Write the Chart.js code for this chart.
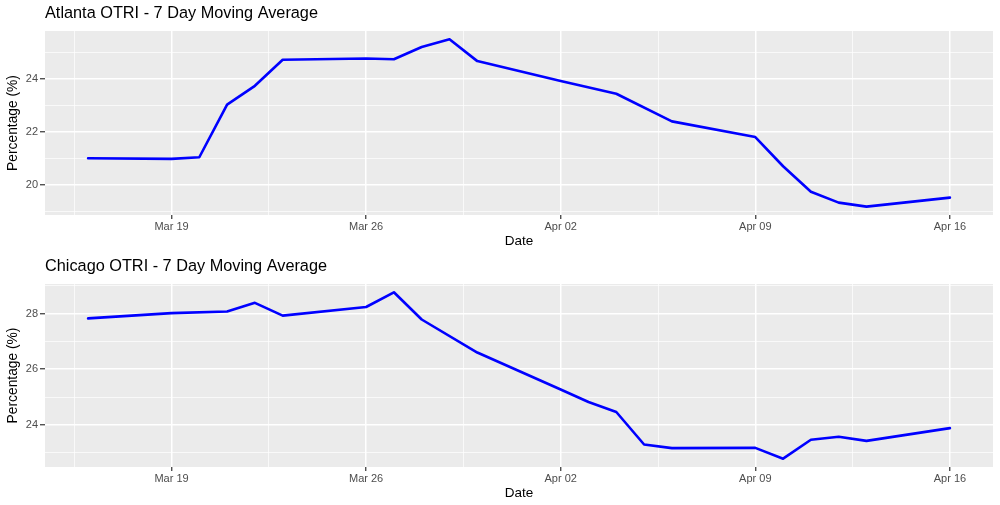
<!DOCTYPE html>
<html>
<head>
<meta charset="utf-8">
<script src="https://cdn.jsdelivr.net/npm/chart.js@4.4.1/dist/chart.umd.min.js"></script>
<style>
  html, body { margin: 0; padding: 0; background: #fff; }
  #wrap { position: relative; width: 1000px; height: 505px; }
  canvas { position: absolute; left: 0; }
</style>
</head>
<body>
<div id="wrap">
  <canvas id="atlanta" width="1000" height="253" style="top:0"></canvas>
  <canvas id="chicago" width="1000" height="252" style="top:253px"></canvas>
</div>
<script>
// Data
const atlantaDates = ['2020-03-16', '2020-03-19', '2020-03-20', '2020-03-21', '2020-03-22', '2020-03-23',
  '2020-03-26', '2020-03-27', '2020-03-28', '2020-03-29', '2020-03-30', '2020-04-02', '2020-04-04',
  '2020-04-06', '2020-04-09', '2020-04-10', '2020-04-11', '2020-04-12', '2020-04-13', '2020-04-16'];
const atlantaValues = [21.01, 20.99, 21.05, 23.03, 23.74, 24.72, 24.77, 24.74, 25.20, 25.49, 24.67,
  23.92, 23.44, 22.40, 21.81, 20.71, 19.75, 19.34, 19.19, 19.53];

const chicagoDates = ['2020-03-16', '2020-03-19', '2020-03-21', '2020-03-22', '2020-03-23', '2020-03-26',
  '2020-03-27', '2020-03-28', '2020-03-30', '2020-04-02', '2020-04-03', '2020-04-04', '2020-04-05',
  '2020-04-06', '2020-04-09', '2020-04-10', '2020-04-11', '2020-04-12', '2020-04-13', '2020-04-16'];
const chicagoValues = [27.83, 28.02, 28.08, 28.39, 27.93, 28.24, 28.77, 27.79, 26.60, 25.27, 24.82,
  24.46, 23.29, 23.16, 23.17, 22.78, 23.46, 23.57, 23.42, 23.88];

const xTickDates = ['2020-03-19', '2020-03-26', '2020-04-02', '2020-04-09', '2020-04-16'];
const xTickLabels = ['Mar 19', 'Mar 26', 'Apr 02', 'Apr 09', 'Apr 16'];
const atlantaYTicks = [20, 22, 24];
const chicagoYTicks = [24, 26, 28];

const DAY = 86400000;
const origin = Date.parse('2020-03-16');
const toDay = d => (Date.parse(d) - origin) / DAY;

// ggplot style: 5% expansion on both ends
function expand(lo, hi) {
  const pad = (hi - lo) * 0.05;
  return [lo - pad, hi + pad];
}

// panel background
const panelBg = {
  id: 'panelBg',
  beforeDraw(chart) {
    const { ctx, chartArea: a } = chart;
    ctx.save();
    ctx.fillStyle = '#EBEBEB';
    ctx.fillRect(a.left, a.top, a.right - a.left, a.bottom - a.top);
    ctx.restore();
  }
};

function makeChart(id, title, dates, values, yTicks) {
  const points = dates.map((d, i) => ({ x: toDay(d), y: values[i] }));
  const xs = points.map(p => p.x);
  const [xMin, xMax] = expand(Math.min(...xs), Math.max(...xs));
  const [yMin, yMax] = expand(Math.min(...values), Math.max(...values));

  const xMajor = xTickDates.map(toDay);
  const xStep = xMajor[1] - xMajor[0];
  const xMinor = [xMajor[0] - xStep / 2, ...xMajor.map(v => v + xStep / 2)];
  const yStep = yTicks[1] - yTicks[0];
  const yMinor = [yTicks[0] - yStep / 2, ...yTicks.map(v => v + yStep / 2)];

  const isXMajor = v => xMajor.some(m => Math.abs(m - v) < 1e-6);
  const isYMajor = v => yTicks.some(m => Math.abs(m - v) < 1e-6);

  return new Chart(document.getElementById(id), {
    type: 'line',
    data: {
      datasets: [{
        data: points,
        borderColor: '#0000FF',
        borderWidth: 2.6,
        borderJoinStyle: 'round',
        borderCapStyle: 'round',
        pointRadius: 0,
        tension: 0
      }]
    },
    options: {
      responsive: false,
      animation: false,
      events: [],
      layout: { padding: { left: 0, right: 7, top: 0, bottom: 0 } },
      plugins: {
        legend: { display: false },
        tooltip: { enabled: false },
        title: {
          display: true,
          text: title,
          align: 'start',
          fullSize: false,
          color: '#000',
          font: { family: 'Liberation Sans', size: 16.3, weight: 'normal' },
          padding: { top: 4, bottom: 7.4 }
        }
      },
      scales: {
        x: {
          type: 'linear',
          min: xMin,
          max: xMax,
          afterBuildTicks: s => {
            s.ticks = [...xMajor, ...xMinor].filter(v => v >= xMin && v <= xMax)
              .sort((a, b) => a - b).map(v => ({ value: v }));
          },
          afterFit: s => { s.height = 38; },
          border: { display: false },
          grid: {
            color: '#FFFFFF',
            lineWidth: c => (c.tick && isXMajor(c.tick.value)) ? 1.5 : 0.7,
            drawTicks: true,
            tickLength: 4,
            tickWidth: 1.2,
            tickColor: c => (c.tick && isXMajor(c.tick.value)) ? '#333333' : 'rgba(0,0,0,0)'
          },
          ticks: {
            autoSkip: false,
            maxRotation: 0,
            padding: 1,
            color: '#4D4D4D',
            font: { family: 'Liberation Sans', size: 11 },
            callback: v => {
              const i = xMajor.findIndex(m => Math.abs(m - v) < 1e-6);
              return i >= 0 ? xTickLabels[i] : '';
            }
          },
          title: {
            display: true,
            text: 'Date',
            color: '#000',
            font: { family: 'Liberation Sans', size: 13.5 },
            padding: { top: 0, bottom: 4 }
          }
        },
        y: {
          type: 'linear',
          min: yMin,
          max: yMax,
          afterBuildTicks: s => {
            s.ticks = [...yTicks, ...yMinor].filter(v => v >= yMin && v <= yMax)
              .sort((a, b) => a - b).map(v => ({ value: v }));
          },
          afterFit: s => { s.width = 45; },
          border: { display: false },
          grid: {
            color: '#FFFFFF',
            lineWidth: c => (c.tick && isYMajor(c.tick.value)) ? 1.5 : 0.7,
            drawTicks: true,
            tickLength: 5,
            tickWidth: 1.2,
            tickColor: c => (c.tick && isYMajor(c.tick.value)) ? '#333333' : 'rgba(0,0,0,0)'
          },
          ticks: {
            autoSkip: false,
            padding: 2,
            color: '#4D4D4D',
            font: { family: 'Liberation Sans', size: 11 },
            callback: v => isYMajor(v) ? String(v) : ''
          },
          title: {
            display: true,
            text: 'Percentage (%)',
            color: '#000',
            font: { family: 'Liberation Sans', size: 13.8 },
            padding: { top: 5, bottom: 0 }
          }
        }
      }
    },
    plugins: [panelBg]
  });
}

makeChart('atlanta', 'Atlanta OTRI - 7 Day Moving Average', atlantaDates, atlantaValues, atlantaYTicks);
makeChart('chicago', 'Chicago OTRI - 7 Day Moving Average', chicagoDates, chicagoValues, chicagoYTicks);
</script>
</body>
</html>
